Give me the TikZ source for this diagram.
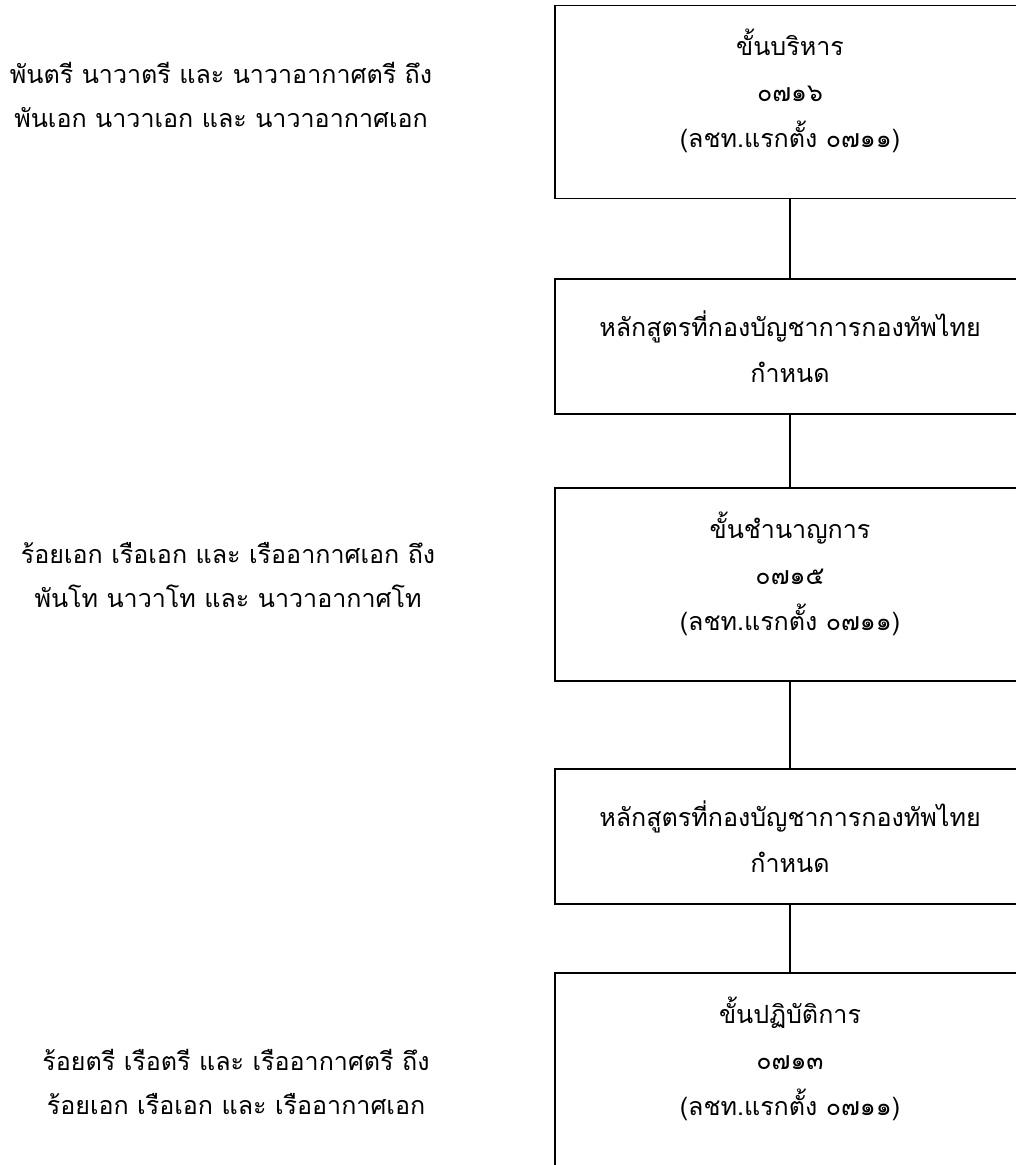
\documentclass[tikz,border=0pt]{standalone}
\usepackage{fontspec}
\newfontfamily\thaifont[Script=Thai]{Loma}
\tikzset{
  boxbase/.style={draw,line width=.9pt,minimum width=352.5pt,
    align=center,font=\thaifont\fontsize{18.8}{34.5}\selectfont},
  rankbox/.style={boxbase,minimum height=144.75pt,text depth=20pt},
  coursebox/.style={boxbase,minimum height=101.25pt},
  ranktext/.style={align=center,font=\thaifont\fontsize{18.8}{32.5}\selectfont},
  link/.style={line width=.9pt}
}

\begin{document}
\begin{tikzpicture}[x=.75pt,y=-.75pt]
  \path[use as bounding box,clip] (0,0) rectangle (1016,1165);
  \node[rankbox] (exec) at (790,102) {ขั้นบริหาร\\๐๗๑๖\\(ลชท.แรกตั้ง ๐๗๑๑)};
  \node[coursebox] (courseA) at (790,346.5) {หลักสูตรที่กองบัญชาการกองทัพไทย\\กำหนด};
  \node[rankbox] (expert) at (790,584.5) {ขั้นชำนาญการ\\๐๗๑๕\\(ลชท.แรกตั้ง ๐๗๑๑)};
  \node[coursebox] (courseB) at (790,836.5) {หลักสูตรที่กองบัญชาการกองทัพไทย\\กำหนด};
  \node[rankbox] (oper) at (790,1069.5) {ขั้นปฏิบัติการ\\๐๗๑๓\\(ลชท.แรกตั้ง ๐๗๑๑)};
  \draw[link] (exec) -- (courseA);
  \draw[link] (courseA) -- (expert);
  \draw[link] (expert) -- (courseB);
  \draw[link] (courseB) -- (oper);
  % ranks beside each level
  \node[ranktext] (rankExec) at (221,95) {พันตรี นาวาตรี และ นาวาอากาศตรี ถึง\\พันเอก นาวาเอก และ นาวาอากาศเอก};
  \node[ranktext] (rankExpert) at (228,575) {ร้อยเอก เรือเอก และ เรืออากาศเอก ถึง\\พันโท นาวาโท และ นาวาอากาศโท};
  \node[ranktext] (rankOper) at (236,1082) {ร้อยตรี เรือตรี และ เรืออากาศตรี ถึง\\ร้อยเอก เรือเอก และ เรืออากาศเอก};
\end{tikzpicture}
\end{document}
